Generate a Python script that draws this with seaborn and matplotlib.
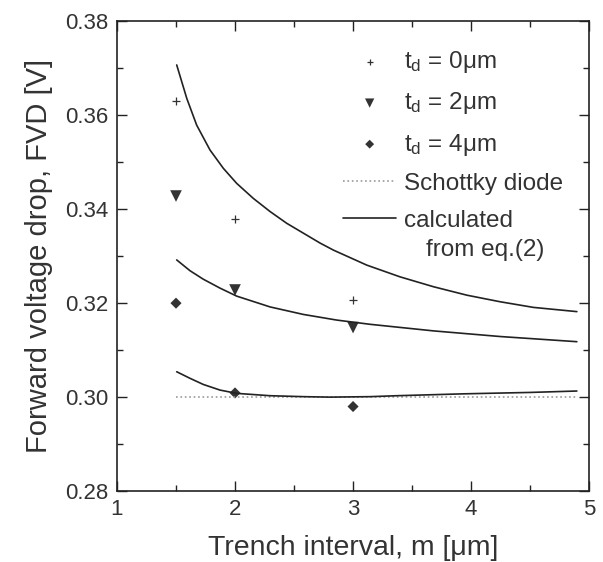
import numpy as np
import pandas as pd
import matplotlib
matplotlib.use('Agg')
import matplotlib.pyplot as plt
import matplotlib.ticker as mticker
import seaborn as sns

# measured points
m_meas = [1.5, 2.0, 3.0]
fvd_td0 = [0.3629, 0.3378, 0.3206]
fvd_td2 = [0.3427, 0.3227, 0.3147]
fvd_td4 = [0.3199, 0.3008, 0.2979]

# calculated curves from eq.(2)
m_c0 = [1.506, 1.591, 1.675, 1.788, 1.901, 2.014, 2.155, 2.297, 2.438, 2.579,
        2.720, 2.833, 3.116, 3.398, 3.681, 3.964, 4.246, 4.528, 4.896]
calc_td0 = [0.3706, 0.3635, 0.3578, 0.3525, 0.3486, 0.3454, 0.3422, 0.3394, 0.3369, 0.3348,
            0.3327, 0.3312, 0.3280, 0.3255, 0.3234, 0.3216, 0.3202, 0.3190, 0.3181]
m_c2 = [1.506, 1.619, 1.731, 1.873, 2.014, 2.297, 2.579, 2.862, 3.144, 3.681, 4.246, 4.896]
calc_td2 = [0.3291, 0.3268, 0.3250, 0.3231, 0.3214, 0.3191, 0.3175, 0.3163, 0.3154, 0.3140,
            0.3128, 0.3117]
m_c4 = [1.506, 1.619, 1.731, 1.873, 2.014, 2.297, 2.579, 2.805, 3.144, 3.370, 3.935, 4.500, 4.896]
calc_td4 = [0.3053, 0.3039, 0.3026, 0.3014, 0.3007, 0.3002, 0.3000, 0.2999, 0.3000, 0.3002,
            0.3006, 0.3009, 0.3012]

# Schottky diode reference
m_sch = [1.5, 4.9]
fvd_sch = [0.300, 0.300]

sns.set_theme(style="ticks")
plt.rcParams['font.family'] = ['Liberation Sans', 'DejaVu Sans']
plt.rcParams['mathtext.fontset'] = 'custom'
plt.rcParams['mathtext.rm'] = 'Liberation Sans'

fig = plt.figure(figsize=(6.03, 5.62), dpi=100)
ax = fig.add_axes([0.194, 0.127, 0.783, 0.836])

df_meas = pd.DataFrame({'m': m_meas, 'td0': fvd_td0, 'td2': fvd_td2, 'td4': fvd_td4})
df_c0 = pd.DataFrame({'m': m_c0, 'v': calc_td0})
df_c2 = pd.DataFrame({'m': m_c2, 'v': calc_td2})
df_c4 = pd.DataFrame({'m': m_c4, 'v': calc_td4})
df_sch = pd.DataFrame({'m': m_sch, 'v': fvd_sch})

c = '#333333'
sns.scatterplot(data=df_meas, x='m', y='td0', marker='+', s=35, color=c,
                linewidth=0.9, ax=ax, label=r'$\mathregular{t_d}$ = 0μm')
sns.scatterplot(data=df_meas, x='m', y='td2', marker='v', s=70, color=c,
                edgecolor='none', ax=ax, label=r'$\mathregular{t_d}$ = 2μm')
sns.scatterplot(data=df_meas, x='m', y='td4', marker='D', s=32, color=c,
                edgecolor='none', ax=ax, label=r'$\mathregular{t_d}$ = 4μm')
sns.lineplot(data=df_sch, x='m', y='v', color='#999999', linestyle=':',
             linewidth=1.2, ax=ax, label='Schottky diode')
sns.lineplot(data=df_c0, x='m', y='v', color='#222222', linewidth=1.2,
             ax=ax, label='calculated')
sns.lineplot(data=df_c2, x='m', y='v', color='#222222', linewidth=1.2, ax=ax)
sns.lineplot(data=df_c4, x='m', y='v', color='#222222', linewidth=1.2, ax=ax)

ax.set_xlim(1, 5)
ax.set_ylim(0.28, 0.38)
ax.xaxis.set_major_locator(mticker.MultipleLocator(1))
ax.xaxis.set_minor_locator(mticker.MultipleLocator(0.5))
ax.yaxis.set_major_locator(mticker.MultipleLocator(0.02))
ax.yaxis.set_minor_locator(mticker.MultipleLocator(0.01))
ax.yaxis.set_major_formatter(mticker.FormatStrFormatter('%.2f'))
ax.tick_params(which='both', direction='in', top=True, right=True,
               colors='#222222', labelcolor='#333333', labelsize=16, width=1.0)
ax.tick_params(which='major', length=7, pad=6)
ax.tick_params(which='minor', length=4)
for sp in ax.spines.values():
    sp.set_linewidth(1.2)
    sp.set_color('#222222')

ax.set_xlabel('Trench interval, m [μm]', fontsize=20.5, color='#333333', labelpad=11)
ax.set_ylabel('Forward voltage drop, FVD [V]', fontsize=21, color='#333333', labelpad=9)

ax.legend(loc='upper right', bbox_to_anchor=(0.97, 0.965), frameon=False,
          fontsize=17.5, labelspacing=0.62, handlelength=2.2, handletextpad=0.3,
          borderpad=0, markerscale=0.8, labelcolor='#333333')
# second line of the "calculated" entry
ax.text(0.655, 0.512, 'from eq.(2)', transform=ax.transAxes, fontsize=17.5,
        color='#333333', ha='left', va='center')

fig.savefig('out.png', dpi=100)
